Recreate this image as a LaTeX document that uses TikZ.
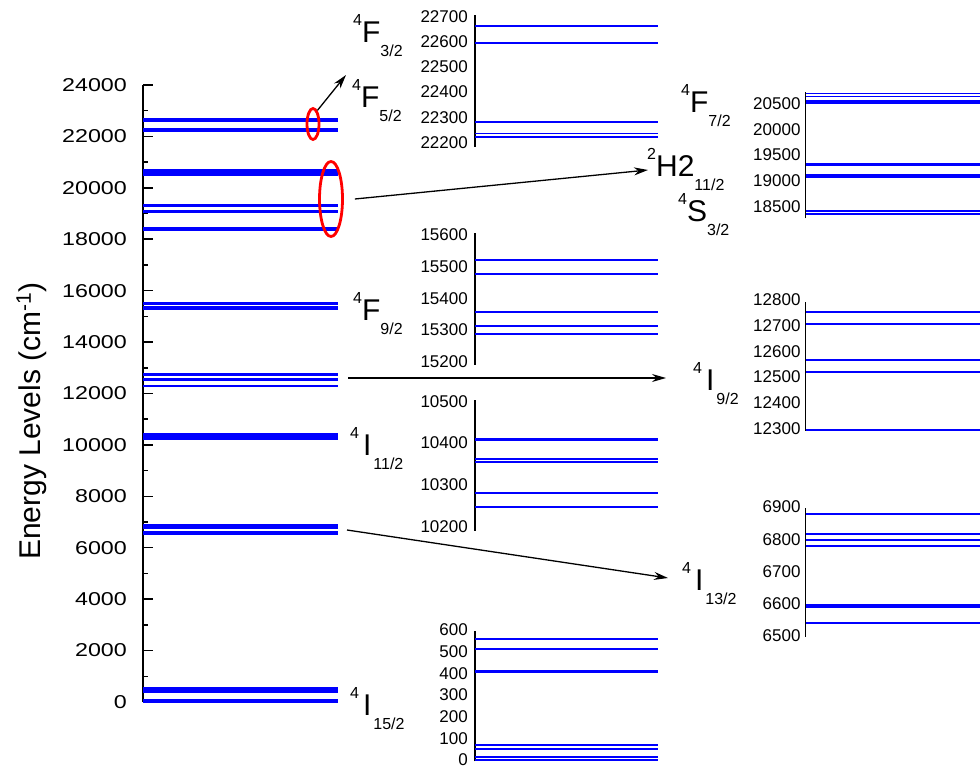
\documentclass[tikz,border=0pt]{standalone}
\usepackage{fontspec}
\setmainfont{Liberation Sans}
\usetikzlibrary{arrows.meta,positioning,shapes.geometric}

\newcommand{\term}[3]{\raisebox{17pt}{\fontsize{16}{16}\selectfont #1}{\fontsize{30}{30}\selectfont #2}\raisebox{-14pt}{\fontsize{16}{16}\selectfont #3}}

\begin{document}
\begin{tikzpicture}[x=1pt,y=-1pt,
  axisline/.style={line width=1.5pt,black},
  mainlevel/.style={line width=2pt,blue},
  sublevel/.style={line width=1.8pt,blue},
  mainnum/.style={font=\fontsize{18.6}{20}\selectfont,anchor=east,inner sep=0pt},
  subnum/.style={font=\fontsize{17}{18}\selectfont,anchor=east,inner sep=0pt},
  termlbl/.style={anchor=base west,inner sep=0pt},
  ring/.style={ellipse,draw=red,line width=2.8pt,inner sep=0pt},
  conn/.style={line width=1.3pt,-{Stealth[length=14pt,width=8pt]}}
]
\useasboundingbox (0,0) rectangle (980,767);

%--- full energy axis ---
\node[rotate=90,anchor=base,inner sep=0pt,font=\fontsize{30}{32}\selectfont] (ylab) at (40,421) {Energy Levels (cm\textsuperscript{-1})};
\begin{scope}[shift={(143,702)},y=2.571pt]
  \draw[axisline] (0,0) -- (0,240);
  \foreach \v in {0,20,...,240} {
    \draw[axisline] (0,\v) -- (10,\v);
    \node[mainnum] (tick\v) at (-16,\v) {\scalebox{1.25}[1]{\the\numexpr\v*100\relax}};
  }
  \foreach \v in {10,30,...,230}
    \draw[axisline] (0,\v) -- (5,\v);
  % levels in units of 100 cm^-1
  \foreach \v in {0,0.14,0.52,0.71,4.05,4.10,4.60,5.14,5.60,
                  65.40,65.90,65.95,67.79,67.97,68.16,68.78,
                  102.47,102.81,103.54,103.62,104.06,104.10,
                  122.94,125.20,125.67,127.07,127.52,
                  152.87,153.13,153.57,154.77,155.21,
                  183.60,184.20,190.70,190.90,191.10,193.00,193.20,
                  205.10,205.40,206.30,206.90,
                  222.21,222.36,222.82,225.93,226.62}
    \draw[mainlevel] (0,\v) -- (195,\v);
\end{scope}

% marked groups
\node[ring,minimum width=12pt,minimum height=31pt] (smallring) at (313,124) {};
\node[ring,minimum width=23pt,minimum height=75pt] (bigring) at (331,199) {};

%--- term labels ---
\node[termlbl] (f32) at (353,43) {\term{4}{F}{3/2}};
\node[termlbl] (f52) at (352,108) {\term{4}{F}{5/2}};
\node[termlbl] (f92) at (353,320) {\term{4}{F}{9/2}};
\node[termlbl] (i112) at (350,455) {\term{4}{\kern4pt I\kern2pt}{11/2}};
\node[termlbl] (i152) at (350,715) {\term{4}{\kern4pt I\kern2pt}{15/2}};
\node[termlbl] (f72) at (681,113) {\term{4}{F}{7/2}};
\node[termlbl] (h112) at (647,177) {\term{2}{H2}{11/2}};
\node[termlbl] (s32) at (678,222) {\term{4}{S}{3/2}};
\node[termlbl] (i92) at (693,390) {\term{4}{\kern4pt I\kern2pt}{9/2}};
\node[termlbl] (i132) at (682,590) {\term{4}{\kern4pt I\kern2pt}{13/2}};

%--- arrows ---
\coordinate (f52tip) at (346,75);
\coordinate (h2tip) at (648,170);
\coordinate (i92from) at (348,378);
\coordinate (i92tip) at (666,378);
\coordinate (i132from) at (347,530);
\coordinate (i132tip) at (668,578);
\draw[conn] (smallring.72) -- (f52tip);
\draw[conn] ([xshift=11pt]bigring.east) -- (h2tip);
\draw[conn] (i92from) -- (i92tip);
\draw[conn] (i132from) -- (i132tip);

%--- 4F3/2 and 4F5/2 ---
\begin{scope}[shift={(475,142.7)},y=0.253pt]
  \draw[axisline] (0,-17) -- (0,505);
  \foreach \v in {0,100,...,500}
    \node[subnum] (fa\v) at (-7,\v) {\the\numexpr22200+\v\relax};
  \foreach \v in {462,393,82,36,21}
    \draw[sublevel] (0,\v) -- (183,\v);
\end{scope}
%--- 4F9/2 ---
\begin{scope}[shift={(475,361.7)},y=0.3167pt]
  \draw[axisline] (0,-10) -- (0,405);
  \foreach \v in {0,100,...,400}
    \node[subnum] (fb\v) at (-7,\v) {\the\numexpr15200+\v\relax};
  \foreach \v in {321,277,157,113,87}
    \draw[sublevel] (0,\v) -- (183,\v);
\end{scope}
%--- 4I11/2 ---
\begin{scope}[shift={(475,526.5)},y=0.417pt]
  \draw[axisline] (0,-10) -- (0,303);
  \foreach \v in {0,100,...,300}
    \node[subnum] (ic\v) at (-7,\v) {\the\numexpr10200+\v\relax};
  \foreach \v in {210,206,162,154,81,47}
    \draw[sublevel] (0,\v) -- (183,\v);
\end{scope}
%--- 4I15/2 ---
\begin{scope}[shift={(475,760)},y=0.2167pt]
  \draw[axisline] (0,-6) -- (0,594);
  \foreach \v in {0,100,...,600}
    \node[subnum] (id\v) at (-7,\v) {\v};
  \foreach \v in {560,514,410,405,71,52,14,0}
    \draw[sublevel] (0,\v) -- (183,\v);
\end{scope}
%--- 4F7/2, 2H11/2, 4S3/2 ---
\begin{scope}[shift={(805.7,206.7)},y=0.0517pt]
  \draw[axisline] (0,-224) -- (0,2224);
  \foreach \v in {0,500,...,2000}
    \node[subnum] (fe\v) at (-5,\v) {\the\numexpr18500+\v\relax};
  \foreach \v in {2190,2130,2040,2010,820,800,610,590,570,-80,-140}
    \draw[sublevel] (0,\v) -- (175,\v);
\end{scope}
%--- 4I9/2 ---
\begin{scope}[shift={(805.7,428.5)},y=0.257pt]
  \draw[axisline] (0,-9) -- (0,493);
  \foreach \v in {0,100,...,500}
    \node[subnum] (if\v) at (-5,\v) {\the\numexpr12300+\v\relax};
  \foreach \v in {452,407,267,220,-6}
    \draw[sublevel] (0,\v) -- (175,\v);
\end{scope}
%--- 4I13/2 ---
\begin{scope}[shift={(805.7,635.5)},y=0.321pt]
  \draw[axisline] (0,-4) -- (0,396);
  \foreach \v in {0,100,...,400}
    \node[subnum] (ig\v) at (-5,\v) {\the\numexpr6500+\v\relax};
  \foreach \v in {378,316,297,279,95,90,40}
    \draw[sublevel] (0,\v) -- (175,\v);
\end{scope}
\end{tikzpicture}
\end{document}
